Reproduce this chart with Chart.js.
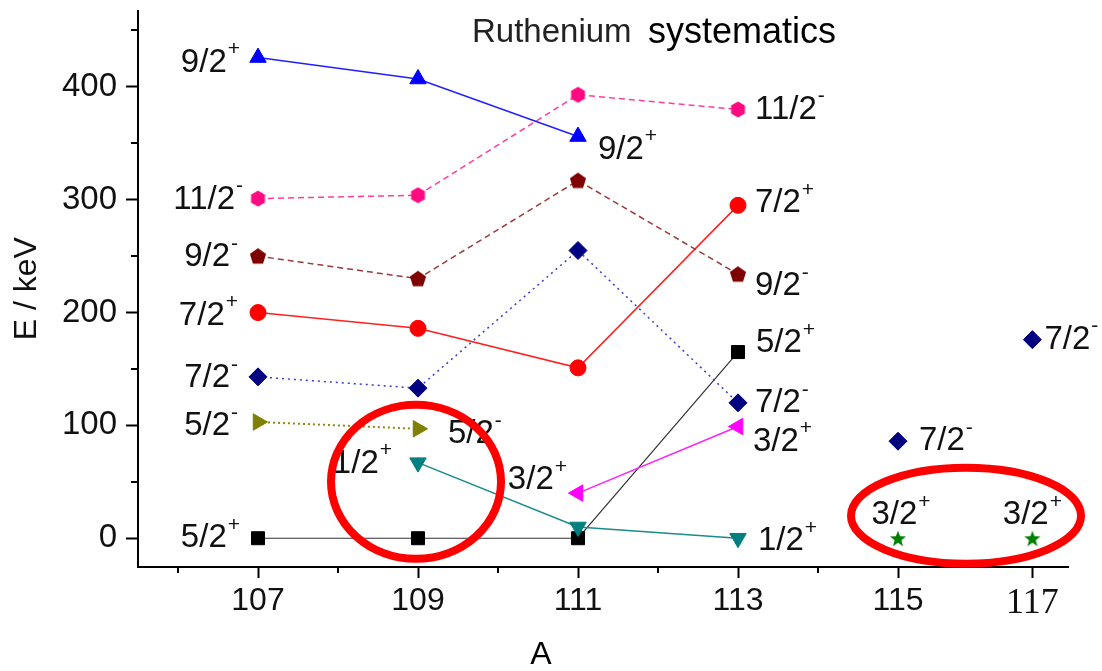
<!DOCTYPE html>
<html>
<head>
<meta charset="utf-8">
<script src="https://cdn.jsdelivr.net/npm/chart.js@4.4.1/dist/chart.umd.min.js"></script>
<style>
  html, body { margin: 0; padding: 0; background: #fff; }
  #wrap { width: 1102px; height: 671px; }
</style>
</head>
<body>
<div id="wrap"><canvas id="myChart"></canvas></div>
<script>
// mass numbers on the x axis
var massNumbers = [107, 109, 111, 113, 115, 117];

// level energies in keV
var a92plus = [107, 109, 111];
var e92plus = [426, 407, 356];
var a112minus = [107, 109, 111, 113];
var e112minus = [301, 304, 393, 380];
var a92minus = [107, 109, 111, 113];
var e92minus = [250, 230, 317, 234];
var a72plus = [107, 109, 111, 113];
var e72plus = [200, 186, 151, 295];
var a72minus = [107, 109, 111, 113];
var e72minus = [143, 133, 255, 120];
var a72minusHeavy = [115, 117];
var e72minusHeavy = [86, 176];
var a52minus = [107, 109];
var e52minus = [103, 97];
var a12plus = [109, 111, 113];
var e12plus = [67, 10, 0];
var a32plus = [111, 113];
var e32plus = [40, 99];
var a52plus = [107, 109, 111, 113];
var e52plus = [0, 0, 0, 165];
var a32plusHeavy = [115, 117];
var e32plusHeavy = [0, 0];

var yTicks = [0, 100, 200, 300, 400];
var yMinor = [50, 150, 250, 350, 450];
var xMinor = [106, 108, 110, 112, 114];

// in the original figure the 117 column was pasted in a bit left of where 117 would be
function axisPos (a) {
    return a === 117 ? 116.68 : a;
}

function pts (aList, eList) {
    return eList.map(function (e, i) { return { x: axisPos(aList[i]), y: e }; });
}

function makeMarker (shape, color, size) {
    var c = document.createElement('canvas');
    c.width = size; c.height = size;
    var g = c.getContext('2d');
    var cx = size / 2, cy = size / 2, r = size / 2 - 0.5;
    g.fillStyle = color;
    g.beginPath();
    if (shape === 'hex') {
        for (var i = 0; i < 6; i++) {
            var a = Math.PI / 6 + i * Math.PI / 3;
            g.lineTo(cx + r * Math.cos(a), cy + r * Math.sin(a));
        }
    } else if (shape === 'pent') {
        for (var j = 0; j < 5; j++) {
            var b = -Math.PI / 2 + j * 2 * Math.PI / 5;
            g.lineTo(cx + r * Math.cos(b), cy + 0.5 + r * Math.sin(b));
        }
    } else if (shape === 'star') {
        for (var k = 0; k < 10; k++) {
            var d = -Math.PI / 2 + k * Math.PI / 5;
            var rr = k % 2 === 0 ? r : r * 0.42;
            g.lineTo(cx + rr * Math.cos(d), cy + 1 + rr * Math.sin(d));
        }
    }
    g.closePath();
    g.fill();
    return c;
}

function series (opts) {
    return Object.assign({
        showLine: true,
        borderWidth: 1.5,
        pointBorderWidth: 1,
        pointRadius: 8,
        fill: false,
        tension: 0
    }, opts);
}

var datasets = [
    series({ spin: '9/2', parity: '+', data: pts(a92plus, e92plus), borderColor: '#2020ff', backgroundColor: '#0000ff', pointBorderColor: '#0000ff', pointStyle: 'triangle', pointRadius: 9.5 }),
    series({ spin: '11/2', parity: '-', data: pts(a112minus, e112minus), borderColor: '#ff3c9e', backgroundColor: '#ff0a80', pointBorderColor: '#ff0a80', borderDash: [6, 4], pointStyle: makeMarker('hex', '#ff0a80', 17) }),
    series({ spin: '9/2', parity: '-', data: pts(a92minus, e92minus), borderColor: '#9a3a3a', backgroundColor: '#800000', pointBorderColor: '#800000', borderDash: [6, 4], pointStyle: makeMarker('pent', '#800000', 18) }),
    series({ spin: '7/2', parity: '+', data: pts(a72plus, e72plus), borderColor: '#ff2020', backgroundColor: '#ff0000', pointBorderColor: '#ff0000', pointStyle: 'circle', pointRadius: 8 }),
    series({ spin: '7/2', parity: '-', data: pts(a72minus, e72minus), borderColor: '#3a3acc', backgroundColor: '#000080', pointBorderColor: '#000080', borderDash: [2, 4], pointStyle: 'rectRot', pointRadius: 9 }),
    series({ spin: '7/2', parity: '-', data: pts(a72minusHeavy, e72minusHeavy), showLine: false, backgroundColor: '#000080', pointBorderColor: '#000080', pointStyle: 'rectRot', pointRadius: 9 }),
    series({ spin: '5/2', parity: '-', data: pts(a52minus, e52minus), borderColor: '#8a8a10', backgroundColor: '#808000', pointBorderColor: '#808000', borderDash: [2, 3], borderWidth: 2, pointStyle: 'triangle', pointRotation: 90, pointRadius: 9.5 }),
    series({ spin: '1/2', parity: '+', data: pts(a12plus, e12plus), borderColor: '#1a8a8a', backgroundColor: '#008080', pointBorderColor: '#008080', pointStyle: 'triangle', pointRotation: 180, pointRadius: 9.5 }),
    series({ spin: '3/2', parity: '+', data: pts(a32plus, e32plus), borderColor: '#ff20ff', backgroundColor: '#ff00ff', pointBorderColor: '#ff00ff', pointStyle: 'triangle', pointRotation: -90, pointRadius: 9.5 }),
    series({ spin: '5/2', parity: '+', data: pts(a52plus, e52plus), borderColor: '#333333', backgroundColor: '#000000', pointBorderColor: '#000000', borderWidth: 1.2, pointStyle: 'rect', pointRadius: 9.2 }),
    series({ spin: '3/2', parity: '+', data: pts(a32plusHeavy, e32plusHeavy), showLine: false, backgroundColor: '#008000', pointBorderColor: '#008000', pointStyle: makeMarker('star', '#008000', 18) })
];

// where each level label sits next to its point
var labelPlaces = [
    { ds: 0, i: 0, side: 'left', dx: -18, dy: 5 },
    { ds: 0, i: 2, side: 'right', dx: 20, dy: 13 },
    { ds: 1, i: 0, side: 'left', dx: -15, dy: 1 },
    { ds: 1, i: 3, side: 'right', dx: 17, dy: 0 },
    { ds: 2, i: 0, side: 'left', dx: -20, dy: 1 },
    { ds: 2, i: 3, side: 'right', dx: 17, dy: 12 },
    { ds: 3, i: 0, side: 'left', dx: -20, dy: 3 },
    { ds: 3, i: 3, side: 'right', dx: 17, dy: -2 },
    { ds: 4, i: 0, side: 'left', dx: -20, dy: 1 },
    { ds: 4, i: 3, side: 'right', dx: 17, dy: 0 },
    { ds: 5, i: 0, side: 'right', dx: 21, dy: 0 },
    { ds: 5, i: 1, side: 'right', dx: 12, dy: 0 },
    { ds: 6, i: 0, side: 'left', dx: -20, dy: 4 },
    { ds: 6, i: 1, side: 'right', dx: 30, dy: 5 },
    { ds: 7, i: 0, side: 'left', dx: -26, dy: 1 },
    { ds: 7, i: 2, side: 'right', dx: 20, dy: 3 },
    { ds: 8, i: 0, side: 'left', dx: -11, dy: -13 },
    { ds: 8, i: 1, side: 'right', dx: 15, dy: 15 },
    { ds: 9, i: 0, side: 'left', dx: -18, dy: 0 },
    { ds: 9, i: 3, side: 'right', dx: 18, dy: -9 },
    { ds: 10, i: 0, side: 'above', dx: 3, dy: -23 },
    { ds: 10, i: 1, side: 'above', dx: 0, dy: -23 }
];

var FONT = '"Liberation Sans", Arial, sans-serif';
var LABEL_SIZE = 33;
var SUP_SIZE = 21;

var overlay = {
    id: 'overlay',
    afterDraw: function (chart) {
        var ctx = chart.ctx;
        var area = chart.chartArea;
        var xs = chart.scales.x, ys = chart.scales.y;
        ctx.save();

        // minor ticks
        ctx.strokeStyle = '#000';
        ctx.lineWidth = 2;
        yMinor.forEach(function (v) {
            var py = Math.round(ys.getPixelForValue(v));
            ctx.beginPath(); ctx.moveTo(area.left - 7, py); ctx.lineTo(area.left, py); ctx.stroke();
        });
        xMinor.forEach(function (v) {
            var px = Math.round(xs.getPixelForValue(v));
            ctx.beginPath(); ctx.moveTo(px, area.bottom); ctx.lineTo(px, area.bottom + 6); ctx.stroke();
        });

        // title inside the plot
        ctx.textBaseline = 'middle';
        ctx.textAlign = 'left';
        ctx.font = '33px ' + FONT;
        ctx.fillStyle = '#222';
        ctx.fillText('Ruthenium', 472, 33);
        ctx.fillStyle = '#000';
        ctx.font = '36px ' + FONT;
        ctx.fillText('systematics', 648, 33);

        // x axis title
        ctx.textAlign = 'center';
        ctx.font = '32px ' + FONT;
        ctx.fillText('A', 541, 655);

        // level labels
        labelPlaces.forEach(function (p) {
            var dsObj = chart.data.datasets[p.ds];
            var pt = chart.getDatasetMeta(p.ds).data[p.i];
            ctx.font = LABEL_SIZE + 'px ' + FONT;
            var wb = ctx.measureText(dsObj.spin).width;
            ctx.font = SUP_SIZE + 'px ' + FONT;
            var ws = ctx.measureText(dsObj.parity).width;
            var x0;
            if (p.side === 'left') x0 = pt.x + p.dx - wb - ws - 1;
            else if (p.side === 'right') x0 = pt.x + p.dx;
            else x0 = pt.x + p.dx - (wb + ws + 1) / 2;
            var y0 = pt.y + p.dy;
            ctx.textAlign = 'left';
            ctx.fillStyle = '#111';
            ctx.font = LABEL_SIZE + 'px ' + FONT;
            ctx.fillText(dsObj.spin, x0, y0);
            ctx.font = SUP_SIZE + 'px ' + FONT;
            ctx.fillText(dsObj.parity, x0 + wb + 1, y0 - 13);
        });

        // red highlight ellipses
        ctx.strokeStyle = '#ff0000';
        ctx.lineWidth = 8;
        ctx.beginPath();
        ctx.ellipse(xs.getPixelForValue(108.975), ys.getPixelForValue(50), 85, 77, 0, 0, Math.PI * 2);
        ctx.stroke();
        ctx.beginPath();
        ctx.ellipse(xs.getPixelForValue(115.85), ys.getPixelForValue(20), 115, 48, 0, 0, Math.PI * 2);
        ctx.stroke();

        ctx.restore();
    }
};

var ctx = document.getElementById('myChart').getContext('2d');
var myChart = new Chart(ctx, {
    type: 'scatter',
    data: { datasets: datasets },
    plugins: [overlay],
    options: {
        responsive: true,
        maintainAspectRatio: false,
        animation: false,
        layout: { padding: { top: 3, right: 34, left: 0, bottom: 0 } },
        plugins: {
            legend: { display: false },
            tooltip: { enabled: false },
            title: { display: false }
        },
        scales: {
            x: {
                type: 'linear',
                min: 105.5,
                max: 117.125,
                afterBuildTicks: function (scale) {
                    scale.ticks = massNumbers.map(function (a) { return { value: axisPos(a) }; });
                },
                afterFit: function (scale) {
                    scale.height = 104;
                    scale.paddingLeft = 0;
                    scale.paddingRight = 0;
                },
                grid: { drawOnChartArea: false, drawTicks: true, tickLength: 11, tickWidth: 2, tickColor: '#000' },
                border: { display: true, color: '#000', width: 2 },
                ticks: {
                    color: '#111',
                    padding: 4,
                    autoSkip: false,
                    maxRotation: 0,
                    callback: function (value, index) { return String(massNumbers[index]); },
                    font: function (c) {
                        return c.index === massNumbers.length - 1
                            ? { family: '"Liberation Serif", "Times New Roman", serif', size: 36 }
                            : { family: FONT, size: 32 };
                    }
                },
                title: { display: false }
            },
            y: {
                type: 'linear',
                min: -25.5,
                max: 467.7,
                afterBuildTicks: function (scale) {
                    scale.ticks = yTicks.map(function (v) { return { value: v }; });
                },
                afterFit: function (scale) {
                    scale.width = 138;
                    scale.paddingTop = 0;
                    scale.paddingBottom = 0;
                },
                grid: { drawOnChartArea: false, drawTicks: true, tickLength: 12, tickWidth: 2, tickColor: '#000' },
                border: { display: true, color: '#000', width: 2 },
                ticks: { color: '#111', padding: 9, font: { family: FONT, size: 33 } },
                title: { display: true, text: 'E / keV', color: '#111', font: { family: FONT, size: 32 }, padding: { top: 8, bottom: 0 } }
            }
        }
    }
});
</script>
</body>
</html>
